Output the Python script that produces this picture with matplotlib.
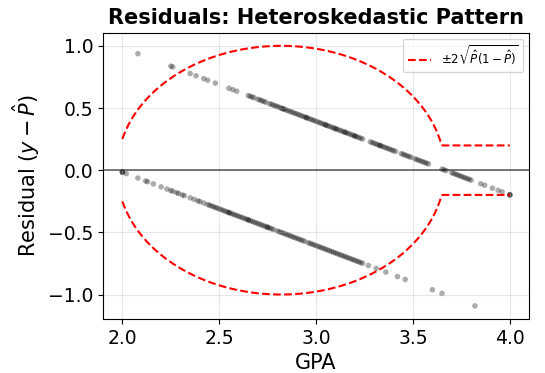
import numpy as np
import matplotlib
matplotlib.use("Agg")
import matplotlib.pyplot as plt

# fitted linear probability model: P_hat = b0 + b1 * GPA
b0 = -1.166
b1 = 0.591

# GPA of admitted students (y = 1)
gpa_admit = [
    2.08, 2.25, 2.26, 2.35, 2.38, 2.42, 2.44, 2.48, 2.55, 2.57, 2.59,
    2.65, 2.66, 2.67, 2.68, 2.70, 2.71, 2.72, 2.73, 2.74, 2.76, 2.77, 2.78, 2.79,
    2.80, 2.81, 2.82, 2.83, 2.83, 2.84, 2.85, 2.86, 2.87, 2.88, 2.89, 2.90, 2.91,
    2.92, 2.93, 2.94, 2.95, 2.95, 2.96, 2.97, 2.98, 2.99,
    3.00, 3.01, 3.02, 3.03, 3.04, 3.05, 3.05, 3.06, 3.07, 3.08, 3.09, 3.10, 3.10,
    3.11, 3.12, 3.13, 3.14, 3.15, 3.15, 3.16, 3.17, 3.18, 3.19, 3.20, 3.20, 3.21,
    3.22, 3.23, 3.24,
    3.28, 3.29, 3.30, 3.31, 3.32, 3.33, 3.33, 3.34, 3.35, 3.36, 3.37, 3.38, 3.39,
    3.40, 3.41,
    3.44, 3.45, 3.46, 3.47, 3.48, 3.49, 3.51, 3.52, 3.53, 3.54, 3.55, 3.56, 3.57, 3.58,
    3.65, 3.66, 3.67, 3.70, 3.71, 3.72, 3.73, 3.74, 3.75, 3.76, 3.77, 3.78, 3.79, 3.80,
    3.85, 3.87, 3.91, 3.94, 3.96, 4.00, 4.00, 4.00,
]

# GPA of rejected students (y = 0)
gpa_reject = [
    2.00, 2.00, 2.00, 2.02, 2.08, 2.12, 2.13, 2.16, 2.20, 2.23, 2.25, 2.26, 2.28,
    2.29, 2.31, 2.32, 2.35, 2.37, 2.39, 2.40, 2.42,
    2.44, 2.45, 2.46, 2.47, 2.48, 2.49, 2.50, 2.51, 2.52, 2.53, 2.54, 2.55, 2.55,
    2.56, 2.57, 2.58, 2.59, 2.60, 2.61, 2.62, 2.63, 2.64, 2.65, 2.65, 2.66, 2.67,
    2.68, 2.69, 2.70, 2.71, 2.72, 2.73, 2.74, 2.75, 2.75, 2.76, 2.77, 2.78, 2.80,
    2.81, 2.82, 2.83, 2.84, 2.85, 2.86, 2.87, 2.88, 2.89, 2.90, 2.91, 2.92, 2.93,
    2.94, 2.96, 2.97, 2.98, 2.99, 3.00, 3.01, 3.02, 3.03, 3.04, 3.05, 3.06, 3.07,
    3.08, 3.09, 3.10, 3.11, 3.12, 3.13, 3.14, 3.15, 3.16, 3.17, 3.18, 3.19, 3.20,
    3.21, 3.22, 3.23, 3.24,
    3.27, 3.31, 3.36, 3.42, 3.46, 3.60, 3.65, 3.82,
]

gpa_admit = np.array(gpa_admit)
gpa_reject = np.array(gpa_reject)

resid_admit = 1 - (b0 + b1 * gpa_admit)
resid_reject = 0 - (b0 + b1 * gpa_reject)

gpa_all = np.concatenate([gpa_admit, gpa_reject])
resid_all = np.concatenate([resid_admit, resid_reject])

# +/- 2 sd band of a Bernoulli with p = P_hat (clipped)
gpa_grid = np.linspace(gpa_all.min(), gpa_all.max(), 300)
p_grid = np.clip(b0 + b1 * gpa_grid, 0.01, 0.99)
band = 2 * np.sqrt(p_grid * (1 - p_grid))

fig = plt.figure(figsize=(5.45, 3.73), dpi=100)
ax = fig.add_axes([0.189, 0.145, 0.782, 0.767])

ax.scatter(gpa_all, resid_all, s=16, color="black", alpha=0.33, edgecolors="none")
ax.axhline(0, color="black", linewidth=1.2, alpha=0.6)
ax.plot(gpa_grid, band, "r--", linewidth=1.5, label=r"$\pm 2\sqrt{\hat{P}(1-\hat{P})}$")
ax.plot(gpa_grid, -band, "r--", linewidth=1.5)

ax.set_title("Residuals: Heteroskedastic Pattern", fontsize=15, fontweight="bold")
ax.set_xlabel("GPA", fontsize=15)
ax.set_ylabel(r"Residual $(y - \hat{P})$", fontsize=15)
ax.tick_params(labelsize=13.5)
ax.set_xticks([2.0, 2.5, 3.0, 3.5, 4.0])
ax.set_yticks([-1.0, -0.5, 0.0, 0.5, 1.0])
ax.grid(True, alpha=0.3)
ax.legend(loc="upper right", fontsize=8.5)

fig.savefig("out.png", dpi=100)
